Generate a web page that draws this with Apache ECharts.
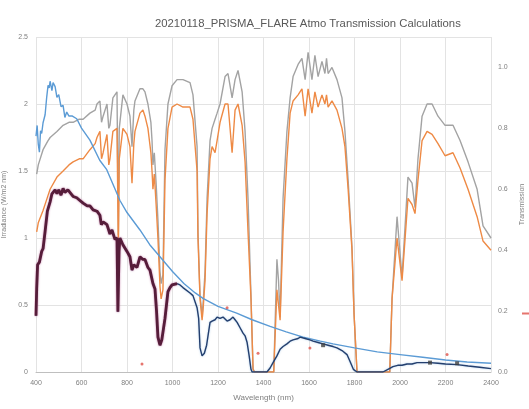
<!DOCTYPE html>
<html>
<head>
<meta charset="utf-8">
<script src="https://cdn.jsdelivr.net/npm/echarts@6/dist/echarts.min.js"></script>
<style>
  html, body { margin: 0; padding: 0; background: #ffffff; }
  #chart { width: 529px; height: 409px; }
</style>
</head>
<body>
<div id="chart"></div>
<script>
// Top-of-atmosphere solar irradiance (W/m2 nm)
const toaWl = [400,405,410,415,420,425,431,440,447,453,
  458,462,470,475,484,492,500,510,519,527,
  535,545,560,579,600,637,680,711,769,800,
  857,900,945,1000,1050,1100,1134,1200,1282,1350,
  1429,1500,1574,1650,1706,1800,1900,2000,2100,2200,
  2295,2400];
const toaIrr = [1.76,1.84,1.70,1.64,1.80,1.78,1.86,1.92,2.05,2.14,
  2.12,2.17,2.10,2.16,2.13,2.05,2.07,1.98,1.99,1.90,
  1.94,1.91,1.91,1.89,1.82,1.73,1.58,1.51,1.28,1.19,
  1.06,0.95,0.86,0.75,0.66,0.59,0.55,0.49,0.44,0.39,
  0.34,0.30,0.26,0.23,0.21,0.18,0.15,0.13,0.11,0.09,
  0.075,0.065];

// Irradiance at the ground (W/m2 nm)
const groundWl = [400,403,407,415,425,431,440,450,462,470,
  484,492,500,510,519,527,540,549,563,579,
  593,607,625,637,651,668,681,687,695,712,
  725,734,747,756,760,765,769,782,800,813,
  822,830,844,857,870,879,892,901,914,923,
  930,936,945,953,967,980,989,998,1020,1033,
  1046,1077,1090,1108,1115,1121,1130,1140,1150,1165,
  1174,1187,1196,1209,1222,1240,1253,1266,1275,1284,
  1297,1310,1319,1328,1337,1345,1350,1415,1429,1442,
  1459,1473,1486,1503,1517,1530,1552,1561,1583,1604,
  1618,1640,1662,1684,1706,1723,1745,1767,1780,1795,
  1811,1925,1947,1969,1990,2009,2031,2053,2075,2100,
  2132,2167,2200,2251,2300,2350,2400];
const groundIrr = [0.42,0.62,0.80,0.82,0.90,0.92,1.05,1.20,1.27,1.33,
  1.36,1.33,1.36,1.32,1.37,1.34,1.36,1.34,1.31,1.30,
  1.28,1.26,1.24,1.24,1.21,1.20,1.17,1.10,1.12,1.10,
  1.03,1.06,0.99,1.00,0.45,0.90,1.00,0.95,0.90,0.86,
  0.76,0.80,0.78,0.86,0.84,0.84,0.78,0.76,0.66,0.62,
  0.45,0.26,0.20,0.24,0.40,0.60,0.63,0.65,0.66,0.65,
  0.63,0.59,0.57,0.48,0.40,0.18,0.12,0.14,0.20,0.37,
  0.38,0.39,0.41,0.40,0.41,0.38,0.39,0.41,0.39,0.37,
  0.33,0.29,0.27,0.22,0.12,0.02,0,0,0.03,0.07,
  0.12,0.17,0.19,0.21,0.23,0.24,0.25,0.26,0.25,0.24,
  0.23,0.22,0.21,0.20,0.19,0.18,0.16,0.13,0.08,0.02,
  0,0,0.02,0.04,0.05,0.05,0.06,0.06,0.07,0.07,
  0.07,0.065,0.06,0.055,0.045,0.035,0.025];
// upper end of the VNIR range highlighted on the ground curve
const vnirLimit = 1020;

// Atmospheric transmission (0..1)
const transWl = [403,410,431,453,462,492,519,545,563,590,
  607,637,660,668,681,688,695,712,720,725,
  738,756,762,766,782,800,813,822,830,835,
  857,870,879,892,905,910,914,920,928,936,
  945,950,958,967,980,998,1020,1046,1077,1090,
  1108,1112,1121,1130,1134,1143,1152,1165,1174,1187,
  1196,1209,1231,1244,1262,1275,1288,1306,1319,1332,
  1345,1354,1360,1445,1459,1466,1473,1486,1503,1517,
  1530,1552,1569,1583,1596,1613,1626,1640,1657,1670,
  1677,1684,1701,1723,1745,1758,1772,1789,1798,1811,
  1955,1965,1987,2009,2035,2053,2066,2079,2097,2119,
  2141,2167,2198,2233,2264,2299,2339,2365,2400];
const transA = [0.65,0.68,0.73,0.76,0.77,0.79,0.81,0.82,0.82,0.83,
  0.83,0.85,0.86,0.88,0.89,0.82,0.84,0.88,0.80,0.81,
  0.90,0.92,0.45,0.80,0.91,0.88,0.84,0.74,0.86,0.89,
  0.93,0.93,0.92,0.88,0.82,0.76,0.68,0.72,0.62,0.50,
  0.33,0.29,0.32,0.73,0.88,0.94,0.96,0.96,0.95,0.91,
  0.74,0.46,0.25,0.19,0.22,0.33,0.57,0.76,0.80,0.83,
  0.85,0.88,0.97,0.98,0.90,0.96,0.99,0.92,0.79,0.57,
  0.25,0.01,0,0,0.37,0.30,0.18,0.57,0.79,0.90,
  0.97,1.01,1.03,0.96,1.05,0.96,1.04,0.97,1.02,0.98,
  1.03,0.98,1.00,0.96,0.90,0.79,0.63,0.41,0.19,0,
  0,0.24,0.51,0.31,0.64,0.62,0.54,0.70,0.84,0.88,
  0.88,0.84,0.81,0.81,0.76,0.69,0.60,0.48,0.44];
const transB = [0.46,0.49,0.53,0.58,0.60,0.64,0.66,0.68,0.69,0.70,
  0.70,0.73,0.75,0.77,0.79,0.70,0.72,0.78,0.68,0.70,
  0.79,0.80,0.40,0.70,0.80,0.78,0.74,0.62,0.75,0.79,
  0.85,0.86,0.84,0.80,0.72,0.66,0.60,0.65,0.55,0.44,
  0.28,0.24,0.27,0.63,0.80,0.87,0.88,0.87,0.87,0.83,
  0.66,0.44,0.24,0.17,0.20,0.30,0.52,0.70,0.74,0.72,
  0.76,0.82,0.88,0.88,0.72,0.86,0.88,0.81,0.69,0.46,
  0.24,0.01,0,0,0.27,0.22,0.17,0.46,0.70,0.85,
  0.89,0.91,0.93,0.84,0.93,0.85,0.92,0.87,0.91,0.88,
  0.91,0.87,0.89,0.86,0.80,0.74,0.60,0.40,0.19,0,
  0,0.24,0.44,0.30,0.57,0.55,0.52,0.63,0.76,0.79,
  0.78,0.75,0.71,0.72,0.67,0.60,0.51,0.43,0.40];

// Sampled points
const sampleWl = [866,1240,1376,1604,2207];
const sampleIrr = [0.06,0.48,0.14,0.18,0.13];
const markWl = [1662,2132,2251];
const markIrr = [0.20,0.07,0.065];

const xTickLabels = ['400','600','800','1000','1200','1400','1600','1800','2000','2200','2400'];

function pairs(xs, ys) {
  const out = [];
  const n = Math.min(xs.length, ys.length);
  for (let i = 0; i < n; i++) out.push([xs[i], ys[i]]);
  return out;
}

const groundPairs = pairs(groundWl, groundIrr);
const vnirPairs = groundPairs.filter(p => p[0] <= vnirLimit);

const font = 'Liberation Sans, Arial, sans-serif';
const textGray = '#7f7f7f';

const chart = echarts.init(document.getElementById('chart'), null, { renderer: 'canvas' });
chart.setOption({
  animation: false,
  backgroundColor: '#ffffff',
  title: {
    text: '20210118_PRISMA_FLARE Atmo Transmission Calculations',
    left: 150, top: 13,
    textStyle: { fontFamily: font, fontSize: 11.3, fontWeight: 'normal', color: '#595959' }
  },
  legend: {
    left: 517, top: 305,
    icon: 'rect', itemWidth: 10, itemHeight: 2,
    textStyle: { fontSize: 7, color: textGray },
    data: ['Sampled']
  },
  grid: { left: 36, right: 38, top: 37, bottom: 37, outerBoundsMode: 'none', containLabel: false },
  xAxis: {
    type: 'value', min: 400, max: 2400, interval: 200,
    axisLine: { show: true, lineStyle: { color: '#bfbfbf', width: 1 } },
    axisTick: { show: false },
    splitLine: { show: true, lineStyle: { color: '#e3e3e3', width: 1 } },
    axisLabel: {
      fontFamily: font, fontSize: 7, color: textGray, margin: 8,
      formatter: v => xTickLabels[Math.round((v - 400) / 200)] || ''
    },
    name: 'Wavelength (nm)', nameLocation: 'middle', nameGap: 22,
    nameTextStyle: { fontFamily: font, fontSize: 8, color: textGray }
  },
  yAxis: [
    {
      type: 'value', min: 0, max: 2.5, interval: 0.5,
      axisLine: { show: false }, axisTick: { show: false },
      splitLine: { show: true, lineStyle: { color: '#e3e3e3', width: 1 } },
      axisLabel: { fontFamily: font, fontSize: 7, color: textGray, margin: 8 },
      name: 'Irradiance (W/m2 nm)', nameLocation: 'middle', nameGap: 26, nameRotate: 90,
      nameTextStyle: { fontFamily: font, fontSize: 7, color: textGray }
    },
    {
      type: 'value', min: 0, max: 1.1, interval: 0.2, position: 'right',
      axisLine: { show: false }, axisTick: { show: false },
      splitLine: { show: false },
      axisLabel: {
        fontFamily: font, fontSize: 7, color: textGray, margin: 7,
        showMaxLabel: false,
        formatter: v => v.toFixed(1)
      },
      name: 'Transmission', nameLocation: 'middle', nameGap: 26, nameRotate: 90,
      nameTextStyle: { fontFamily: font, fontSize: 7, color: textGray }
    }
  ],
  series: [
    {
      name: 'Transmission A', type: 'line', yAxisIndex: 1, showSymbol: false,
      data: pairs(transWl, transA),
      lineStyle: { color: '#a3a3a3', width: 1.4 }, z: 2
    },
    {
      name: 'Transmission B', type: 'line', yAxisIndex: 1, showSymbol: false,
      data: pairs(transWl, transB),
      lineStyle: { color: '#ee8a45', width: 1.4 }, z: 3
    },
    {
      name: 'TOA', type: 'line', yAxisIndex: 0, showSymbol: false,
      data: pairs(toaWl, toaIrr),
      lineStyle: { color: '#5b9bd5', width: 1.4 }, z: 4
    },
    {
      name: 'Ground', type: 'line', yAxisIndex: 0, showSymbol: false,
      data: groundPairs,
      lineStyle: { color: '#243f6e', width: 1.4, shadowColor: 'rgba(91,155,213,0.5)', shadowBlur: 2 }, z: 5
    },
    {
      name: 'Ground VNIR', type: 'line', yAxisIndex: 0, showSymbol: false,
      data: vnirPairs,
      lineStyle: { color: '#561d3a', width: 2.8, shadowColor: 'rgba(205,90,140,0.7)', shadowBlur: 2 }, z: 6
    },
    {
      name: 'Markers', type: 'scatter', yAxisIndex: 0,
      data: pairs(markWl, markIrr),
      symbol: 'rect', symbolSize: 4,
      itemStyle: { color: '#404040' }, z: 7
    },
    {
      name: 'Sampled', type: 'scatter', yAxisIndex: 0,
      data: pairs(sampleWl, sampleIrr),
      symbol: 'circle', symbolSize: 3,
      itemStyle: { color: '#e0524a' }, z: 8
    }
  ]
});
</script>
</body>
</html>
